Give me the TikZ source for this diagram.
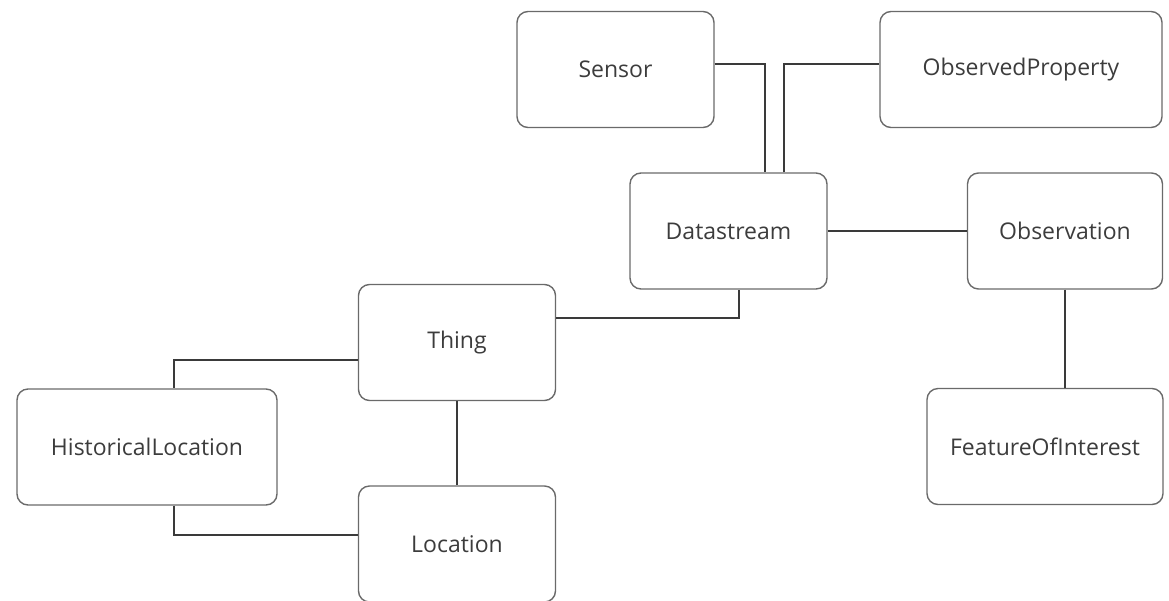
\documentclass[tikz,border=0pt]{standalone}
\usepackage{fontspec}
\setmainfont{Open Sans}
\begin{document}
\begin{tikzpicture}[x=1pt,y=-1pt,
  entity/.style={draw=boxgray, line width=1.4pt, rounded corners=11pt,
    inner sep=0pt, text=textgray, font=\fontsize{23}{27}\selectfont,
    minimum height=116pt},
  link/.style={draw=linegray, line width=2pt}]
\definecolor{boxgray}{HTML}{6A6A6A}
\definecolor{linegray}{HTML}{3A3A3A}
\definecolor{textgray}{HTML}{3C3C3C}
\useasboundingbox (0,0) rectangle (1169,600);

% entities
\node[entity, minimum width=197pt] (sensor)   at (615.5,69.5) {Sensor};
\node[entity, minimum width=282pt] (obsprop)  at (1021,69.5)  {ObservedProperty};
\node[entity, minimum width=197pt] (dstream)  at (728.5,231)  {Datastream};
\node[entity, minimum width=195pt] (obs)      at (1065,231)   {Observation};
\node[entity, minimum width=197pt] (thing)    at (457,342.5)  {Thing};
\node[entity, minimum width=260pt] (histloc)  at (147,447)    {HistoricalLocation};
\node[entity, minimum width=197pt] (loc)      at (457,544)    {Location};
\node[entity, minimum width=236pt] (foi)      at (1045,446.5) {FeatureOfInterest};

% relations
\draw[link] ([yshift=5.5pt]sensor.east) -| ([xshift=36.5pt]dstream.north);
\draw[link] ([xshift=55.5pt]dstream.north) |- ([yshift=5.5pt]obsprop.west);
\draw[link] (dstream.east) -- (obs.west);
\draw[link] ([yshift=24.5pt]thing.east) -| ([xshift=10.5pt]dstream.south);
\draw[link] ([yshift=-17.5pt]thing.west) -| ([xshift=27pt]histloc.north);
\draw[link] ([xshift=27pt]histloc.south) |- ([yshift=9pt]loc.west);
\draw[link] (thing.south) -- (loc.north);
\draw[link] (obs.south) -- (obs.south |- foi.north);
\end{tikzpicture}
\end{document}
